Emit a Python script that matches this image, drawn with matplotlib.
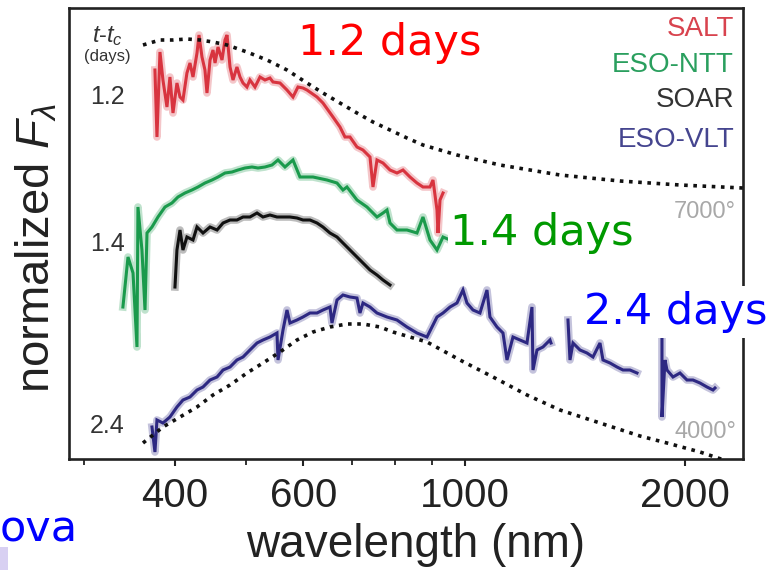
import numpy as np
import matplotlib
matplotlib.use("Agg")
import matplotlib.pyplot as plt
from matplotlib.ticker import FixedLocator, NullFormatter
from matplotlib.patches import Rectangle

plt.rcParams['font.family'] = ['Liberation Sans', 'DejaVu Sans']
plt.rcParams['mathtext.fontset'] = 'custom'
plt.rcParams['mathtext.rm'] = 'Liberation Sans'
plt.rcParams['mathtext.it'] = 'Liberation Sans:italic'

nan = np.nan

# ---------------- data (wavelength in nm, normalized flux offset) ----------------
salt_wl = [375.5, 377.9, 381.5, 385.1, 390.0, 393.7, 397.5, 402.5, 406.4, 410.2, 415.4, 419.4,
           423.4, 428.8, 431.5, 435.6, 439.7, 442.5, 446.8, 451.0, 453.9, 458.2, 464.0, 468.4,
           471.4, 475.9, 480.4, 486.4, 491.1, 495.8, 502.0, 506.8, 514.9, 523.1, 531.4, 539.8,
           545.0, 557.2, 569.6, 580.5, 589.7, 599.1, 606.7, 626.2, 638.1, 658.6, 673.3, 684.0,
           694.9, 710.4, 724.0, 740.2, 747.2, 756.7, 771.2, 788.4, 806.0, 821.4, 839.8, 858.5,
           874.9, 894.5, 903.0, 914.5, 917.4, 923.2, 932.0]
salt_flux = [3.89, 3.22, 4.07, 3.79, 3.52, 3.82, 3.46, 3.76, 3.62, 3.59, 3.86, 3.96,
             3.82, 4.06, 4.24, 4.02, 3.89, 3.66, 3.99, 4.09, 3.96, 4.12, 3.99, 4.19,
             4.24, 3.92, 3.79, 3.92, 3.82, 3.76, 3.72, 3.79, 3.72, 3.82, 3.79, 3.81,
             3.77, 3.76, 3.69, 3.62, 3.72, 3.71, 3.69, 3.62, 3.56, 3.42, 3.32, 3.22,
             3.22, 3.12, 3.09, 3.02, 2.72, 2.99, 2.96, 2.89, 2.86, 2.89, 2.82, 2.76,
             2.72, 2.72, 2.79, 2.49, 2.26, 2.59, 2.66]

ntt_wl = [339.4, 344.9, 350.4, 354.8, 355.9, 360.4, 363.9, 366.2, 372.0, 379.1, 387.6, 396.2,
          403.8, 412.8, 422.0, 430.1, 439.7, 449.6, 458.2, 468.4, 478.9, 488.0, 498.9, 510.0,
          519.8, 531.4, 543.3, 553.7, 566.0, 580.5, 593.4, 618.3, 646.2, 667.0, 679.7, 688.3,
          710.4, 733.2, 756.7, 771.2, 781.0, 788.4, 806.0, 831.8, 858.5, 874.9, 894.5, 914.5,
          932.0, 952.8, 967.9]
ntt_flux = [1.52, 2.02, 1.86, 1.12, 2.52, 2.09, 1.49, 2.26, 2.32, 2.42, 2.52, 2.56,
            2.62, 2.66, 2.69, 2.72, 2.76, 2.79, 2.82, 2.86, 2.87, 2.89, 2.91, 2.92,
            2.91, 2.92, 2.94, 2.99, 2.92, 2.99, 2.82, 2.82, 2.79, 2.76, 2.69, 2.72,
            2.59, 2.52, 2.42, 2.46, 2.49, 2.36, 2.29, 2.29, 2.26, 2.42, 2.19, 2.09,
            2.22, 2.19, 2.11]

soar_wl = [400.0, 402.5, 406.4, 410.2, 415.4, 423.4, 428.8, 437.0, 446.8, 456.8, 465.5, 475.9,
           486.4, 495.8, 506.8, 518.2, 528.0, 539.8, 551.9, 562.5, 575.0, 587.9, 599.1, 612.5,
           626.2, 638.1, 652.4, 667.0, 679.7, 694.9, 710.4, 724.0, 740.2, 756.7, 771.2, 788.4]
soar_flux = [1.72, 2.09, 2.29, 2.09, 2.22, 2.19, 2.32, 2.26, 2.32, 2.29, 2.36, 2.39,
             2.39, 2.42, 2.42, 2.46, 2.42, 2.44, 2.42, 2.42, 2.42, 2.41, 2.39, 2.39,
             2.36, 2.32, 2.26, 2.22, 2.16, 2.09, 2.02, 1.96, 1.89, 1.84, 1.79, 1.74]

vlt_wl = [372.0, 375.5, 377.9, 385.1, 393.7, 402.5, 410.2, 419.4, 428.8, 437.0, 446.8, 456.8,
          465.5, 475.9, 486.4, 495.8, 506.8, 518.2, 528.0, 539.8, 551.9, 553.7, 562.5, 569.6,
          575.0, 587.9, 599.1, 612.5, 626.2, 638.1, 652.4, 656.5, 667.0, 679.7, 694.9, 710.4,
          717.2, 724.0, 740.2, 756.7, 781.0, 806.0, 831.8, 858.5, 886.0, 914.5, 932.0, 952.8,
          974.0, 992.6, 1005.2, 1024.5, 1047.3, 1070.7, 1080.9, 1105.1, 1126.2, 1140.5, 1162.3,
          1188.3, 1214.8, 1234.1, 1238.0, 1253.8, 1277.7, 1306.3, 1310.4,
          nan,
          1382.6, 1391.4, 1404.6, 1436.0, 1468.0, 1496.1, 1529.5, 1544.1, 1578.6, 1613.8,
          1644.7, 1681.4, 1719.0,
          nan,
          1860.0, 1860.0, 1877.8, 1889.6, 1925.8, 1968.7, 2012.7, 2051.2, 2097.0, 2143.9,
          2184.9, 2198.7]
vlt_flux = [0.32, 0.07, 0.39, 0.36, 0.42, 0.52, 0.59, 0.62, 0.69, 0.72, 0.79, 0.82,
            0.89, 0.92, 0.99, 1.02, 1.09, 1.16, 1.19, 1.22, 1.26, 0.99, 1.29, 1.49,
            1.36, 1.39, 1.42, 1.46, 1.46, 1.49, 1.52, 1.36, 1.59, 1.64, 1.62, 1.61,
            1.46, 1.56, 1.52, 1.46, 1.42, 1.39, 1.32, 1.26, 1.22, 1.42, 1.46, 1.52,
            1.56, 1.69, 1.56, 1.49, 1.46, 1.69, 1.42, 1.32, 1.26, 0.99, 1.22,
            1.19, 1.16, 1.52, 0.89, 1.09, 1.12, 1.19, 1.16,
            nan,
            1.39, 0.99, 1.16, 1.09, 1.06, 1.02, 1.16, 0.99, 0.96, 0.92,
            0.89, 0.89, 0.86,
            nan,
            1.22, 0.42, 0.99, 0.89, 0.82, 0.86, 0.79, 0.79, 0.76, 0.72,
            0.69, 0.71]

bb7000_wl = [361.6, 381.5, 397.5, 415.4, 432.8, 451.0, 471.4, 502.0, 534.8, 569.6, 606.7, 638.1,
             673.3, 710.4, 747.2, 788.4, 831.8, 874.9, 923.2, 974.0, 1115.6, 1348.2, 1629.2,
             1968.7, 2400.0]
bb7000_flux = [4.14, 4.19, 4.19, 4.20, 4.19, 4.17, 4.14, 4.07, 3.99, 3.89, 3.76, 3.66,
               3.56, 3.46, 3.37, 3.29, 3.21, 3.14, 3.09, 3.04, 2.94, 2.84, 2.78,
               2.74, 2.71]

bb4000_wl = [361.6, 385.1, 406.4, 428.8, 451.0, 475.9, 502.0, 528.0, 557.2, 587.9, 618.3, 652.4,
             688.3, 724.0, 763.9, 795.9, 886.0, 983.3, 1091.2, 1214.8, 1348.2, 1529.5, 1735.3,
             1889.6, 2097.0, 2305.2]
bb4000_flux = [0.16, 0.32, 0.42, 0.52, 0.64, 0.74, 0.86, 0.96, 1.07, 1.19, 1.27, 1.32,
               1.35, 1.35, 1.32, 1.27, 1.17, 0.99, 0.82, 0.64, 0.49, 0.36, 0.23,
               0.16, 0.07, -0.03]

tick_values = [400, 600, 1000, 2000]
tick_labels = ['400', '600', '1000', '2000']
minor_values = [300, 500, 700, 800, 900]

instruments = ['SALT', 'ESO-NTT', 'SOAR', 'ESO-VLT']
epochs = ['1.2', '1.4', '2.4']
temps = ['7000°', '4000°']
slide_labels = ['1.2 days', '1.4 days', '2.4 days']

# ---------------- figure ----------------
W, H = 768, 570
fig = plt.figure(figsize=(W / 100, H / 100), dpi=100)
fig.patch.set_facecolor('white')

def fx(px):
    return px / W

def fy(py):
    return 1 - py / H

ax = fig.add_axes([fx(69), fy(459), (743 - 69) / W, (459 - 8) / H])
ax.set_xscale('log')
ax.set_xlim(286.3, 2402)
ax.set_ylim(0, 4.51)

red = '#d8343f'
green = '#1a9a4c'
black = '#111111'
blue = '#2d2882'

for wl, fl, c in [(salt_wl, salt_flux, red), (ntt_wl, ntt_flux, green),
                  (soar_wl, soar_flux, black), (vlt_wl, vlt_flux, blue)]:
    ax.plot(wl, fl, color=c, lw=5.5, alpha=0.28, solid_joinstyle='round', zorder=2)
    ax.plot(wl, fl, color=c, lw=2.2, solid_joinstyle='miter', zorder=3)

for wl, fl in [(bb7000_wl, bb7000_flux), (bb4000_wl, bb4000_flux)]:
    ax.plot(wl, fl, color='#111111', lw=2.6, linestyle=(0, (1, 1.55)), zorder=4)

ax.set_yticks([])
ax.xaxis.set_major_locator(FixedLocator(tick_values))
ax.xaxis.set_minor_locator(FixedLocator(minor_values))
ax.xaxis.set_minor_formatter(NullFormatter())
ax.set_xticklabels(tick_labels)
ax.tick_params(axis='x', which='major', direction='out', length=5, width=1.5,
               labelsize=29, pad=8, colors='#222222')
ax.tick_params(axis='x', which='minor', direction='out', length=4, width=1.3, colors='#222222')
for s in ax.spines.values():
    s.set_linewidth(1.9)
    s.set_color('#222222')

ax.set_xlabel('wavelength (nm)', fontsize=33, color='#222222')
ax.xaxis.set_label_coords(0.515, -0.142)
ax.set_ylabel(r'normalized $F_{\lambda}$', fontsize=34, color='#222222')
ax.yaxis.set_label_coords(-0.0134, 0.468)

# inner annotations
fig.text(fx(108), fy(36), r'$t$-$t_c$', fontsize=17, color='#333333', ha='center', va='center')
fig.text(fx(107), fy(57), '(days)', fontsize=12, color='#333333', ha='center', va='center')
for lab, py in zip(epochs, [97, 244, 426]):
    fig.text(fx(107), fy(py), lab, fontsize=18, color='#333333', ha='center', va='center')

for lab, py, c in zip(instruments, [29, 65, 100, 140],
                      ['#d8434e', '#2a9f5e', '#333333', '#45458f']):
    fig.text(fx(734), fy(py), lab, fontsize=20, color=c, ha='right', va='center')

for lab, py in zip(temps, [212, 432]):
    fig.text(fx(736), fy(py), lab, fontsize=17, color='#a8a8a8', ha='right', va='center')

# slide overlay texts
fig.text(fx(298), fy(43), slide_labels[0], fontsize=31, color='#ff0000', ha='left', va='center',
         family='DejaVu Sans')
fig.text(fx(450), fy(233), slide_labels[1], fontsize=31, color='#009900', ha='left', va='center',
         family='DejaVu Sans', zorder=10,
         bbox=dict(boxstyle='square,pad=0.05', fc='white', ec='none'))
fig.text(fx(584), fy(312), slide_labels[2], fontsize=31, color='#0000ff', ha='left', va='center',
         family='DejaVu Sans', zorder=10,
         bbox=dict(boxstyle='square,pad=0.12', fc='white', ec='none'))
fig.text(fx(78), fy(530), 'ova', fontsize=31, color='#0000ff', ha='right', va='center',
         family='DejaVu Sans')
fig.patches.append(Rectangle((0, 0), fx(8), fy(547), transform=fig.transFigure,
                             facecolor='#d8d0f2', edgecolor='none'))

fig.savefig('out.png', dpi=100)
